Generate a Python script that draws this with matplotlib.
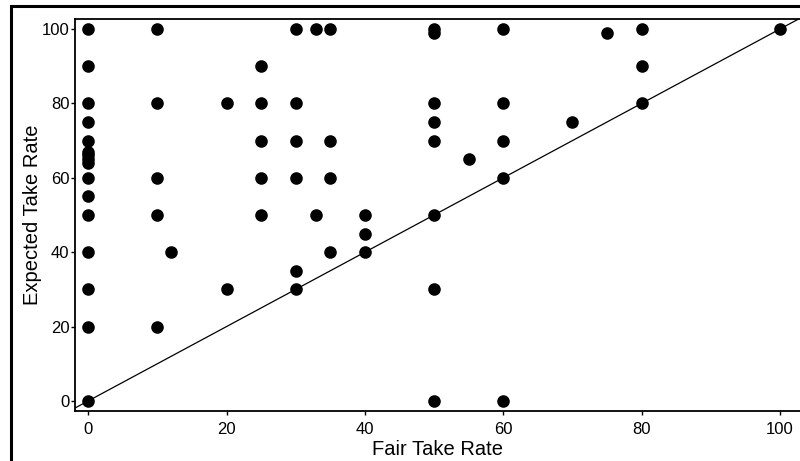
import matplotlib.pyplot as plt
from matplotlib.patches import Rectangle

# fair take rate (x) and expected take rate (y), one entry per respondent
fair = [0, 0, 0, 0, 0, 0, 0, 0, 0, 0, 0, 0, 0, 0, 0, 0,
        10, 10, 10, 10, 10,
        12,
        20, 20,
        25, 25, 25, 25, 25,
        30, 30, 30, 30, 30, 30,
        33, 33,
        35, 35, 35, 35,
        40, 40, 40,
        50, 50, 50, 50, 50, 50, 50, 50,
        55,
        60, 60, 60, 60, 60,
        70,
        75,
        80, 80, 80,
        100]
expected = [100, 90, 80, 75, 70, 67, 66, 65, 64, 60, 55, 50, 40, 30, 20, 0,
            100, 80, 60, 50, 20,
            40,
            80, 30,
            90, 80, 70, 60, 50,
            100, 80, 70, 60, 35, 30,
            100, 50,
            100, 70, 60, 40,
            50, 45, 40,
            100, 99, 80, 75, 70, 50, 30, 0,
            65,
            100, 80, 70, 60, 0,
            75,
            99,
            100, 90, 80,
            100]

ticks = [0, 20, 40, 60, 80, 100]

plt.rcParams['font.family'] = ['Liberation Sans', 'DejaVu Sans']

fig = plt.figure(figsize=(8, 4.61), dpi=100)

# outer frame of the original page figure (cut off at right/bottom)
fig.patches.append(Rectangle((11 / 800, -0.1), 1.2, (461 - 6) / 461 + 0.1,
                             transform=fig.transFigure, fill=False,
                             edgecolor='black', linewidth=2.2))

ax = fig.add_axes([75 / 800, 50 / 461, 725 / 800, 392 / 461])

ax.scatter(fair, expected, s=82, color='black', zorder=3, linewidths=0)
ax.plot([-5, 110], [-5, 110], color='black', linewidth=0.9, zorder=2)

ax.set_xlim(-1.9, 102.9)
ax.set_ylim(-2.7, 102.7)
ax.set_xticks(ticks)
ax.set_yticks(ticks)
ax.tick_params(labelsize=12, length=3, width=1, direction='out')
ax.tick_params(axis='x', pad=5)
ax.tick_params(axis='y', pad=1)
ax.set_xlabel('Fair Take Rate', fontsize=14.5, labelpad=2)
ax.set_ylabel('Expected Take Rate', fontsize=14.5, labelpad=0)

for side in ['top', 'left', 'bottom']:
    ax.spines[side].set_linewidth(1.3)
ax.spines['right'].set_visible(False)

fig.savefig('out.png', dpi=100)
